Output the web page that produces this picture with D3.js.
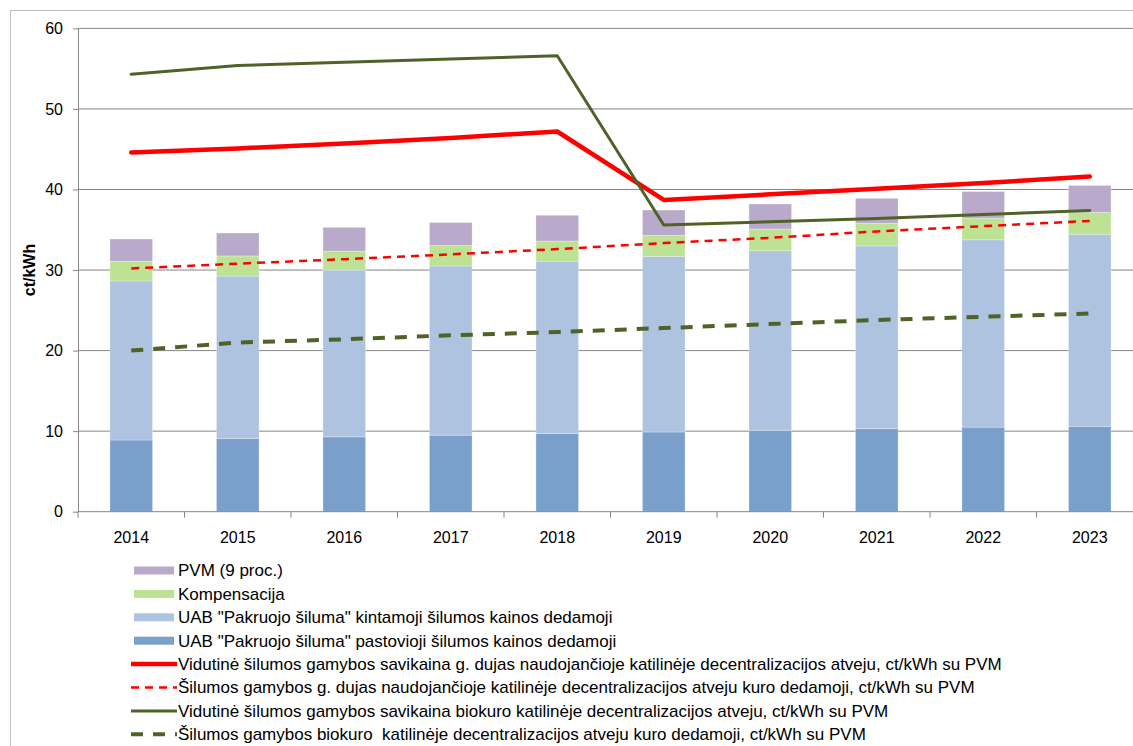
<!DOCTYPE html>
<html>
<head>
<meta charset="utf-8">
<script src="https://cdn.jsdelivr.net/npm/d3@7"></script>
<style>
  body { margin: 0; background: #fff; }
  svg { display: block; font-family: "Liberation Sans", Arial, sans-serif; }
</style>
</head>
<body>
<div id="chart"></div>
<script>
// Chart data
const years = ["2014", "2015", "2016", "2017", "2018", "2019", "2020", "2021", "2022", "2023"];
const pastovioji = [8.9, 9.1, 9.3, 9.5, 9.7, 9.9, 10.1, 10.3, 10.5, 10.6];
const kintamoji = [19.75, 20.15, 20.7, 21.0, 21.4, 21.8, 22.3, 22.7, 23.25, 23.85];
const kompensacija = [2.45, 2.5, 2.35, 2.55, 2.5, 2.6, 2.7, 2.8, 2.7, 2.7];
const pvm = [2.75, 2.85, 2.95, 2.85, 3.2, 3.15, 3.1, 3.1, 3.3, 3.35];

const dujuSavikaina = [44.6, 45.1, 45.7, 46.4, 47.2, 38.7, 39.4, 40.1, 40.8, 41.6];
const dujuKuras = [30.2, 30.8, 31.35, 31.95, 32.6, 33.35, 34.0, 34.8, 35.45, 36.1];
const biokuroSavikaina = [54.3, 55.4, 55.8, 56.2, 56.6, 35.6, 36.0, 36.4, 36.9, 37.4];
const biokuroKuras = [20.0, 21.0, 21.4, 21.9, 22.3, 22.8, 23.3, 23.8, 24.2, 24.6];

const yTicks = [0, 10, 20, 30, 40, 50, 60];

const barKeys = ["pastovioji", "kintamoji", "kompensacija", "pvm"];
const barColors = { pastovioji: "#7b9fcb", kintamoji: "#adc3df", kompensacija: "#bde293", pvm: "#b9aacb" };

const width = 1133, height = 746;
const plot = { left: 78, right: 1143, top: 28.4, bottom: 511.7 };

const svg = d3.select("#chart").append("svg")
    .attr("width", width)
    .attr("height", height);

// outer frame of the chart
svg.append("rect")
    .attr("x", 10.5).attr("y", 10.5)
    .attr("width", 1140).attr("height", 760)
    .attr("fill", "none")
    .attr("stroke", "#bfbfbf");

var x = d3.scaleBand()
    .domain(years)
    .range([plot.left, plot.right])
    .paddingInner(0.6)
    .paddingOuter(0.3);

var y = d3.scaleLinear()
    .domain([0, 60])
    .range([plot.bottom, plot.top]);

// gridlines
svg.append("g")
    .selectAll("line")
    .data(yTicks.slice(1))
    .enter().append("line")
    .attr("x1", plot.left).attr("x2", plot.right)
    .attr("y1", d => y(d)).attr("y2", d => y(d))
    .attr("stroke", "#868686")
    .attr("stroke-width", 1);

// stacked bars
const table = years.map((yr, i) => ({
    year: yr,
    pastovioji: pastovioji[i],
    kintamoji: kintamoji[i],
    kompensacija: kompensacija[i],
    pvm: pvm[i]
}));
const stacked = d3.stack().keys(barKeys)(table);

svg.append("g")
    .selectAll("g")
    .data(stacked)
    .enter().append("g")
    .attr("fill", d => barColors[d.key])
    .selectAll("rect")
    .data(d => d)
    .enter().append("rect")
    .attr("x", d => x(d.data.year))
    .attr("width", x.bandwidth())
    .attr("y", d => y(d[1]))
    .attr("height", d => y(d[0]) - y(d[1]))
    .attr("stroke", "#ffffff")
    .attr("stroke-opacity", 0.35)
    .attr("stroke-width", 0.8);

// axes
const yAxis = svg.append("g")
    .attr("transform", "translate(" + plot.left + ",0)")
    .call(d3.axisLeft(y).tickValues(yTicks).tickSize(5).tickPadding(10).tickSizeOuter(0));
yAxis.select(".domain").attr("stroke", "#868686");
yAxis.selectAll(".tick line").attr("stroke", "#868686");
yAxis.selectAll("text").attr("font-size", 16).attr("fill", "#000")
    .attr("font-family", "Liberation Sans, Arial, sans-serif");

const xAxis = svg.append("g")
    .attr("transform", "translate(0," + plot.bottom + ")");
xAxis.append("line")
    .attr("x1", plot.left).attr("x2", plot.right)
    .attr("stroke", "#868686");
xAxis.selectAll(".tk")
    .data(years.map((d, i) => i).concat([years.length]))
    .enter().append("line")
    .attr("x1", i => plot.left + i * x.step())
    .attr("x2", i => plot.left + i * x.step())
    .attr("y1", 0).attr("y2", 6)
    .attr("stroke", "#868686");
xAxis.selectAll("text")
    .data(years)
    .enter().append("text")
    .attr("x", d => x(d) + x.bandwidth() / 2)
    .attr("y", 31)
    .attr("text-anchor", "middle")
    .attr("font-size", 16)
    .text(d => d);

svg.append("text")
    .attr("transform", "translate(35," + ((plot.top + plot.bottom) / 2) + ") rotate(-90)")
    .attr("text-anchor", "middle")
    .attr("font-size", 16)
    .attr("font-weight", "bold")
    .text("ct/kWh");

// lines
const lineSeries = [
    { name: "Vidutinė šilumos gamybos savikaina g. dujas naudojančioje katilinėje decentralizacijos atveju, ct/kWh su PVM",
      values: dujuSavikaina, color: "#ff0000", w: 4.5, dash: null },
    { name: "Šilumos gamybos g. dujas naudojančioje katilinėje decentralizacijos atveju kuro dedamoji, ct/kWh su PVM",
      values: dujuKuras, color: "#ff0000", w: 2.5, dash: "8,6" },
    { name: "Vidutinė šilumos gamybos savikaina biokuro katilinėje decentralizacijos atveju, ct/kWh su PVM",
      values: biokuroSavikaina, color: "#4f6228", w: 3, dash: null },
    { name: "Šilumos gamybos biokuro  katilinėje decentralizacijos atveju kuro dedamoji, ct/kWh su PVM",
      values: biokuroKuras, color: "#4f6228", w: 4, dash: "12,10" }
];

const line = d3.line()
    .x((d, i) => x(years[i]) + x.bandwidth() / 2)
    .y(d => y(d));

svg.append("g")
    .selectAll("path")
    .data(lineSeries)
    .enter().append("path")
    .attr("d", d => line(d.values))
    .attr("fill", "none")
    .attr("stroke", d => d.color)
    .attr("stroke-width", d => d.w)
    .attr("stroke-dasharray", d => d.dash)
    .attr("stroke-linejoin", "round")
    .attr("stroke-linecap", d => d.dash ? "butt" : "round");

// legend
const barLegend = [
    { name: "PVM (9 proc.)", color: barColors.pvm },
    { name: "Kompensacija", color: barColors.kompensacija },
    { name: "UAB \"Pakruojo šiluma\" kintamoji šilumos kainos dedamoji", color: barColors.kintamoji },
    { name: "UAB \"Pakruojo šiluma\" pastovioji šilumos kainos dedamoji", color: barColors.pastovioji }
];

const legend = svg.append("g");
const rowY = i => 570.5 + i * 23.4;

legend.selectAll(".bl")
    .data(barLegend)
    .enter().append("rect")
    .attr("x", 134).attr("y", (d, i) => rowY(i) - 4)
    .attr("width", 40).attr("height", 8)
    .attr("fill", d => d.color);

legend.selectAll(".ll")
    .data(lineSeries)
    .enter().append("line")
    .attr("x1", 131).attr("x2", 177)
    .attr("y1", (d, i) => rowY(i + 4)).attr("y2", (d, i) => rowY(i + 4))
    .attr("stroke", d => d.color)
    .attr("stroke-width", d => d.w)
    .attr("stroke-dasharray", d => d.dash);

legend.selectAll("text")
    .data(barLegend.map(d => d.name).concat(lineSeries.map(d => d.name)))
    .enter().append("text")
    .attr("x", 178)
    .attr("y", (d, i) => rowY(i))
    .attr("dy", "0.35em")
    .attr("font-size", 17)
    .style("white-space", "pre")
    .text(d => d);
</script>
</body>
</html>
